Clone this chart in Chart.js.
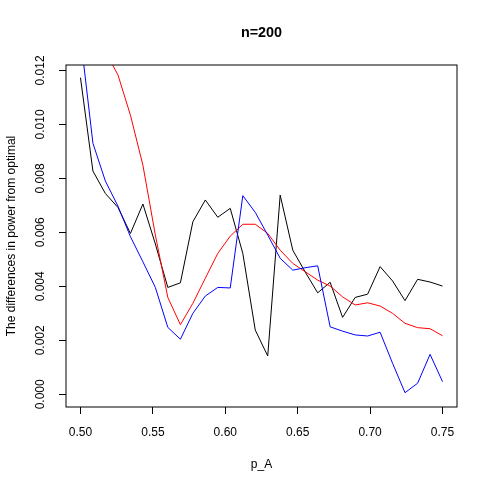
<!DOCTYPE html>
<html>
<head>
<meta charset="utf-8">
<script src="https://cdn.jsdelivr.net/npm/chart.js@4.4.1/dist/chart.umd.min.js"></script>
<style>
  html, body { margin: 0; padding: 0; background: #fff; }
  #wrap { width: 491px; height: 489px; }
</style>
</head>
<body>
<div id="wrap"><canvas id="chart-canvas" width="491" height="489"></canvas></div>
<script>
const chartTitle = 'n=200'
const xTitle = 'p_A'
const yTitle = 'The differences in power from optimal'

// p_A values, seq(0.5, 0.75, length = 30)
const pA = [
  0.5000, 0.5086, 0.5172, 0.5259, 0.5345, 0.5431, 0.5517, 0.5603, 0.5690, 0.5776,
  0.5862, 0.5948, 0.6034, 0.6121, 0.6207, 0.6293, 0.6379, 0.6466, 0.6552, 0.6638,
  0.6724, 0.6810, 0.6897, 0.6983, 0.7069, 0.7155, 0.7241, 0.7328, 0.7414, 0.7500
]

const blackSeries = [
  0.01173, 0.00827, 0.00744, 0.00692, 0.00596, 0.00705, 0.00557, 0.00396, 0.00413, 0.00639,
  0.00720, 0.00656, 0.00689, 0.00522, 0.00238, 0.00142, 0.00738, 0.00534, 0.00453, 0.00376,
  0.00415, 0.00285, 0.00359, 0.00371, 0.00473, 0.00420, 0.00347, 0.00426, 0.00416, 0.00401
]

const redSeries = [
  0.01600, 0.01450, 0.01270, 0.01183, 0.01034, 0.00849, 0.00590, 0.00359, 0.00258, 0.00337,
  0.00430, 0.00522, 0.00586, 0.00630, 0.00630, 0.00596, 0.00534, 0.00485, 0.00454, 0.00423,
  0.00401, 0.00361, 0.00331, 0.00339, 0.00327, 0.00300, 0.00263, 0.00247, 0.00243, 0.00217
]

const blueSeries = [
  0.01326, 0.00930, 0.00790, 0.00697, 0.00584, 0.00491, 0.00396, 0.00248, 0.00204, 0.00300,
  0.00364, 0.00396, 0.00394, 0.00736, 0.00674, 0.00590, 0.00504, 0.00460, 0.00469, 0.00476,
  0.00250, 0.00234, 0.00220, 0.00216, 0.00230, 0.00115, 0.00006, 0.00041, 0.00148, 0.00047
]

const xTicks = [0.50, 0.55, 0.60, 0.65, 0.70, 0.75]
const yTicks = [0.000, 0.002, 0.004, 0.006, 0.008, 0.010, 0.012]

const FONT = '"Liberation Sans", Arial, Helvetica, sans-serif'

function toPoints(values) {
  return values.map((v, i) => ({ x: pA[i], y: v }))
}

function makeLine(values, color) {
  return {
    data: toPoints(values),
    borderColor: color,
    backgroundColor: color,
    borderWidth: 1,
    pointRadius: 0,
    fill: false,
    tension: 0
  }
}

// frame around the plot region + main title, like base R
const framePlugin = {
  id: 'frame',
  afterDatasetsDraw(chart) {
    const { ctx, chartArea: a } = chart
    ctx.save()
    ctx.strokeStyle = '#000'
    ctx.lineWidth = 1
    ctx.strokeRect(a.left, a.top, a.right - a.left, a.bottom - a.top)
    ctx.restore()
  },
  afterDraw(chart) {
    const { ctx, chartArea: a } = chart
    ctx.save()
    ctx.fillStyle = '#000'
    ctx.font = 'bold 14.4px ' + FONT
    ctx.textAlign = 'center'
    ctx.textBaseline = 'middle'
    ctx.fillText(chartTitle, (a.left + a.right) / 2, 33)
    ctx.restore()
  }
}

Chart.defaults.font.family = FONT
Chart.defaults.font.size = 12
Chart.defaults.color = '#000'

const ctx = document.querySelector('#chart-canvas')
new Chart(ctx, {
  type: 'line',
  data: {
    datasets: [
      makeLine(blueSeries, '#0000ff'),
      makeLine(redSeries, '#ff0000'),
      makeLine(blackSeries, '#000000')
    ]
  },
  options: {
    responsive: false,
    animation: false,
    layout: { padding: { top: 65, right: 34, bottom: 0, left: 0 } },
    plugins: {
      legend: { display: false },
      tooltip: { enabled: false },
      title: { display: false }
    },
    scales: {
      x: {
        type: 'linear',
        min: 0.49,
        max: 0.76,
        afterBuildTicks: s => { s.ticks = xTicks.map(v => ({ value: v })) },
        afterFit: s => { s.height = 82 },
        grid: { drawOnChartArea: false, drawTicks: true, tickLength: 7, color: '#000', lineWidth: 1 },
        border: { display: false },
        ticks: {
          padding: 11,
          maxRotation: 0,
          autoSkip: false,
          callback: v => v.toFixed(2)
        },
        title: { display: true, text: xTitle, padding: { top: 0, bottom: 17 }, font: { size: 12 } }
      },
      y: {
        type: 'linear',
        min: -0.00047,
        max: 0.0122,
        afterBuildTicks: s => { s.ticks = yTicks.map(v => ({ value: v })) },
        afterFit: s => { s.width = 66 },
        grid: { drawOnChartArea: false, drawTicks: true, tickLength: 7, color: '#000', lineWidth: 1 },
        border: { display: false },
        ticks: {
          padding: 3,
          minRotation: 90,
          maxRotation: 90,
          crossAlign: 'center',
          autoSkip: false,
          callback: v => v.toFixed(3)
        },
        title: { display: true, text: yTitle, padding: { top: 4.3, bottom: 0 }, font: { size: 12 } }
      }
    }
  },
  plugins: [framePlugin]
})
</script>
</body>
</html>
